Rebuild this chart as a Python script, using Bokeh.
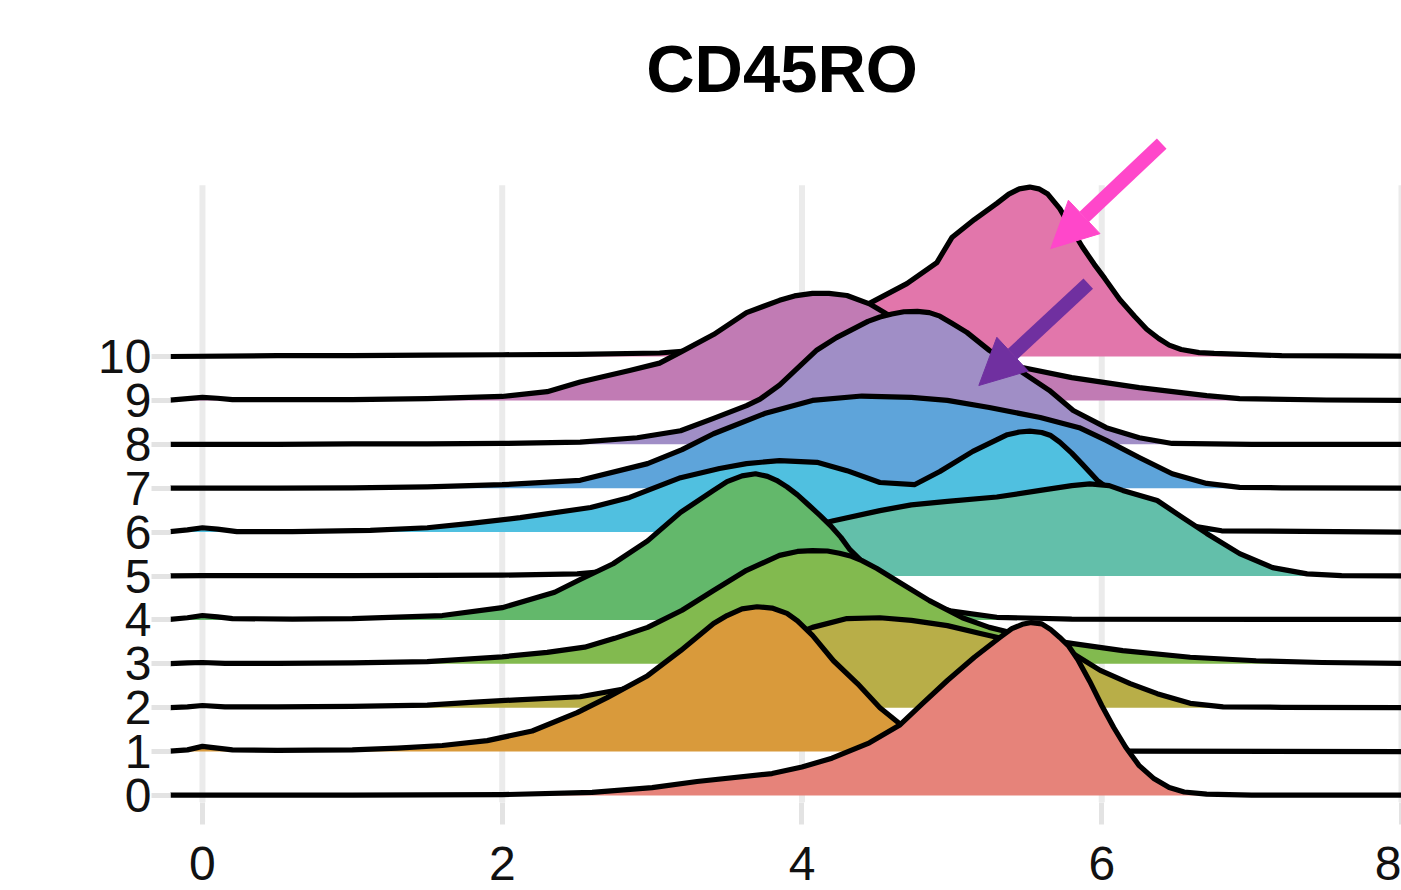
from bokeh.plotting import figure
from bokeh.models import FixedTicker, Range1d, Arrow, NormalHead
from bokeh.core.properties import value
from bokeh.embed import file_html
from bokeh.resources import INLINE

# ---------------- data ----------------
clusters = ["0", "1", "2", "3", "4", "5", "6", "7", "8", "9", "10"]

x_c0 = [-0.25, 1.0, 2.0, 2.6, 3.0, 3.3, 3.8, 4.0, 4.2, 4.45, 4.65, 4.8, 4.97, 5.15, 5.32, 5.4, 5.47, 5.53, 5.6, 5.66, 5.72, 5.78, 5.84, 5.92, 6.0, 6.08, 6.16, 6.25, 6.35, 6.45, 6.55, 6.7, 7.0, 8.05]
h_c0 = [0.01, 0.01, 0.02, 0.07, 0.18, 0.32, 0.5, 0.65, 0.85, 1.2, 1.6, 2.08, 2.62, 3.15, 3.6, 3.8, 3.9, 3.94, 3.91, 3.78, 3.6, 3.4, 3.1, 2.6, 2.05, 1.55, 1.1, 0.68, 0.38, 0.18, 0.08, 0.03, 0.01, 0.01]

x_c1 = [-0.25, -0.1, 0.0, 0.1, 0.2, 0.5, 1.0, 1.3, 1.6, 1.9, 2.2, 2.5, 2.7, 2.97, 3.19, 3.41, 3.5, 3.6, 3.7, 3.8, 3.9, 3.97, 4.07, 4.21, 4.37, 4.52, 4.65, 4.9, 5.2, 5.6, 6.2, 8.05]
h_c1 = [0.0, 0.04, 0.12, 0.08, 0.04, 0.03, 0.04, 0.08, 0.14, 0.25, 0.47, 0.89, 1.23, 1.73, 2.3, 2.92, 3.1, 3.25, 3.3, 3.27, 3.15, 2.98, 2.65, 2.07, 1.55, 1.0, 0.64, 0.3, 0.1, 0.03, 0.01, 0.0]

x_c2 = [-0.25, -0.1, 0.0, 0.15, 0.5, 1.0, 1.5, 1.79, 2.1, 2.52, 2.8, 3.1, 3.4, 3.7, 3.9, 4.07, 4.3, 4.52, 4.73, 4.97, 5.19, 5.5, 5.81, 5.99, 6.19, 6.37, 6.59, 6.81, 7.2, 8.05]
h_c2 = [0.0, 0.02, 0.05, 0.02, 0.02, 0.03, 0.06, 0.12, 0.18, 0.25, 0.42, 0.65, 0.95, 1.3, 1.6, 1.83, 2.03, 2.05, 1.99, 1.87, 1.69, 1.45, 1.23, 0.85, 0.55, 0.32, 0.1, 0.02, 0.01, 0.0]

x_c3 = [-0.25, -0.1, 0.0, 0.15, 0.5, 1.0, 1.5, 2.0, 2.3, 2.55, 2.75, 2.97, 3.2, 3.41, 3.63, 3.85, 3.97, 4.07, 4.17, 4.25, 4.33, 4.4, 4.5, 4.63, 4.85, 5.07, 5.25, 5.5, 5.81, 6.14, 6.59, 7.03, 7.47, 8.05]
h_c3 = [0.0, 0.02, 0.03, 0.01, 0.01, 0.02, 0.05, 0.16, 0.26, 0.38, 0.58, 0.83, 1.22, 1.67, 2.13, 2.47, 2.56, 2.58, 2.57, 2.52, 2.45, 2.35, 2.17, 1.9, 1.44, 1.05, 0.83, 0.62, 0.46, 0.3, 0.15, 0.07, 0.03, 0.01]

x_c4 = [-0.25, -0.1, 0.0, 0.1, 0.2, 0.6, 1.0, 1.6, 2.0, 2.35, 2.52, 2.74, 2.97, 3.19, 3.41, 3.5, 3.6, 3.69, 3.77, 3.83, 3.9, 3.97, 4.05, 4.12, 4.19, 4.26, 4.32, 4.5, 4.7, 5.0, 5.3, 5.8, 8.05]
h_c4 = [0.0, 0.05, 0.1, 0.07, 0.03, 0.02, 0.03, 0.1, 0.28, 0.63, 0.92, 1.28, 1.8, 2.45, 2.95, 3.15, 3.28, 3.33, 3.27, 3.18, 3.03, 2.85, 2.6, 2.38, 2.15, 1.88, 1.6, 1.0, 0.5, 0.2, 0.06, 0.02, 0.01]

x_c5 = [-0.25, 0.0, 1.0, 2.0, 2.5, 3.0, 3.5, 3.9, 4.21, 4.52, 4.73, 4.97, 5.3, 5.59, 5.8, 5.92, 6.05, 6.14, 6.37, 6.54, 6.7, 6.92, 7.14, 7.37, 7.6, 8.05]
h_c5 = [0.0, 0.01, 0.01, 0.02, 0.05, 0.2, 0.6, 1.0, 1.26, 1.49, 1.62, 1.7, 1.8, 1.95, 2.06, 2.1, 2.06, 1.95, 1.72, 1.33, 0.97, 0.51, 0.19, 0.05, 0.01, 0.0]

x_c6 = [-0.25, -0.1, 0.0, 0.1, 0.23, 0.6, 1.12, 1.5, 1.79, 2.12, 2.59, 2.85, 3.19, 3.45, 3.63, 3.85, 4.1, 4.3, 4.52, 4.75, 4.92, 5.14, 5.37, 5.45, 5.52, 5.6, 5.66, 5.72, 5.8, 5.87, 5.97, 6.2, 6.5, 6.8, 8.05]
h_c6 = [0.0, 0.05, 0.1, 0.07, 0.01, 0.01, 0.04, 0.1, 0.2, 0.33, 0.56, 0.79, 1.24, 1.45, 1.56, 1.63, 1.59, 1.4, 1.13, 1.08, 1.38, 1.84, 2.22, 2.28, 2.3, 2.27, 2.2, 2.05, 1.8, 1.55, 1.18, 0.6, 0.2, 0.03, 0.0]

x_c7 = [-0.25, 0.5, 1.0, 1.5, 2.0, 2.52, 2.97, 3.2, 3.41, 3.75, 4.07, 4.4, 4.73, 4.97, 5.25, 5.59, 5.85, 6.03, 6.25, 6.47, 6.7, 6.92, 7.2, 8.05]
h_c7 = [0.0, 0.0, 0.01, 0.03, 0.08, 0.18, 0.56, 0.88, 1.24, 1.7, 2.0, 2.1, 2.07, 2.0, 1.84, 1.61, 1.38, 1.09, 0.7, 0.33, 0.11, 0.02, 0.01, 0.0]

x_c8 = [-0.25, 0.5, 1.0, 1.5, 2.0, 2.52, 2.9, 3.19, 3.41, 3.63, 3.72, 3.85, 3.99, 4.1, 4.23, 4.44, 4.52, 4.6, 4.68, 4.77, 4.85, 4.92, 5.0, 5.1, 5.25, 5.47, 5.65, 5.81, 6.03, 6.25, 6.47, 7.0, 8.05]
h_c8 = [0.0, 0.0, 0.01, 0.01, 0.02, 0.05, 0.15, 0.31, 0.59, 0.88, 1.03, 1.35, 1.8, 2.15, 2.43, 2.8, 2.9, 2.97, 3.02, 3.03, 3.0, 2.92, 2.76, 2.55, 2.14, 1.64, 1.23, 0.77, 0.38, 0.15, 0.02, 0.0, 0.0]

x_c9 = [-0.25, -0.1, 0.0, 0.1, 0.2, 0.6, 1.0, 1.5, 2.0, 2.3, 2.52, 2.85, 3.05, 3.19, 3.41, 3.63, 3.85, 3.95, 4.07, 4.18, 4.3, 4.45, 4.56, 4.8, 5.05, 5.25, 5.47, 5.8, 6.25, 6.7, 6.92, 7.5, 8.05]
h_c9 = [0.0, 0.04, 0.07, 0.05, 0.02, 0.02, 0.02, 0.04, 0.09, 0.2, 0.42, 0.68, 0.85, 1.1, 1.5, 2.0, 2.28, 2.38, 2.44, 2.44, 2.39, 2.2, 1.98, 1.6, 1.2, 0.95, 0.75, 0.52, 0.29, 0.11, 0.04, 0.01, 0.0]

x_c10 = [-0.25, 0.5, 1.0, 1.5, 2.0, 2.5, 3.05, 3.5, 3.9, 4.2, 4.45, 4.7, 4.9, 5.0, 5.15, 5.3, 5.38, 5.45, 5.52, 5.58, 5.64, 5.72, 5.8, 5.87, 5.95, 6.02, 6.12, 6.22, 6.3, 6.38, 6.45, 6.53, 6.65, 6.75, 7.2, 8.05]
h_c10 = [0.0, 0.02, 0.02, 0.03, 0.04, 0.05, 0.08, 0.2, 0.5, 0.85, 1.21, 1.66, 2.14, 2.71, 3.12, 3.49, 3.7, 3.82, 3.86, 3.82, 3.7, 3.37, 2.9, 2.5, 2.1, 1.78, 1.3, 0.91, 0.62, 0.41, 0.26, 0.16, 0.09, 0.07, 0.02, 0.01]

fill_colors = ["#E6837A", "#D99A3B", "#B8AE48", "#82BA4F", "#63B86B", "#63BFAA",
               "#50C0E0", "#5EA4DA", "#A08EC6", "#C17BB4", "#E276AB"]

x_ticks = [0, 2, 4, 6, 8]
x_tick_labels = ["0", "2", "4", "6", "8"]
title_text = "CD45RO"

# annotation arrows: (x_start, y_start, x_end, y_end) in data units
arrow_pink = (6.40, 14.85, 5.66, 12.46)
arrow_purple = (5.91, 11.66, 5.18, 9.34)

xs_all = [x_c0, x_c1, x_c2, x_c3, x_c4, x_c5, x_c6, x_c7, x_c8, x_c9, x_c10]
hs_all = [h_c0, h_c1, h_c2, h_c3, h_c4, h_c5, h_c6, h_c7, h_c8, h_c9, h_c10]

# ---------------- figure ----------------
Y0, Y1 = -0.159, 18.11
p = figure(width=1401, height=890, output_backend="svg", toolbar_location=None,
           x_range=Range1d(-0.2133, 8.0), y_range=Range1d(Y0, Y1),
           min_border_left=170, min_border_right=0, min_border_top=0, min_border_bottom=88)
p.outline_line_color = None
p.background_fill_color = "white"
p.border_fill_color = "white"
p.xgrid.visible = False
p.ygrid.visible = False

# vertical grid lines (limited to the panel height)
p.segment(x0=x_ticks, y0=[Y0] * len(x_ticks), x1=x_ticks, y1=[13.9] * len(x_ticks),
          line_color="#EBEBEB", line_width=6)

# ridges: top row first so lower rows overlay upper ones
for k in range(len(clusters) - 1, -1, -1):
    xs = xs_all[k]
    ys = [k + h for h in hs_all[k]]
    p.varea(x=xs, y1=[k] * len(xs), y2=ys, fill_color=fill_colors[k], fill_alpha=1.0)
    p.line(x=xs, y=ys, line_color="black", line_width=5.2, line_join="round", line_cap="round")

# arrows
for (xs0, ys0, xe, ye), col in [(arrow_pink, "#FF47CA"), (arrow_purple, "#7030A0")]:
    p.add_layout(Arrow(end=NormalHead(size=46, fill_color=col, line_color=col, line_width=1),
                       x_start=xs0, y_start=ys0, x_end=xe, y_end=ye,
                       line_color=col, line_width=14))

# title
p.text(x=[3.867], y=[16.56], text=[title_text], text_font=value("Liberation Sans"),
       text_font_style="bold", text_font_size="67px", text_align="center",
       text_baseline="alphabetic", text_color="black")

# axes
p.xaxis.ticker = FixedTicker(ticks=x_ticks)
p.xaxis.major_label_overrides = {t: l for t, l in zip(x_ticks, x_tick_labels)}
p.yaxis.ticker = FixedTicker(ticks=list(range(len(clusters))))
p.yaxis.major_label_overrides = {i: c for i, c in enumerate(clusters)}
for ax in (p.xaxis, p.yaxis):
    ax.axis_line_color = None
    ax.minor_tick_line_color = None
    ax.major_tick_in = 0
    ax.major_tick_line_color = "#E3E3E3"
    ax.major_tick_line_width = 5
    ax.major_label_text_font = "Liberation Sans"
    ax.major_label_text_font_size = "48px"
    ax.major_label_text_color = "#111111"
p.xaxis.major_tick_out = 22
p.xaxis.major_label_standoff = 22
p.yaxis.major_tick_out = 19
p.yaxis.major_label_standoff = 0

open("out.html", "w").write(file_html(p, INLINE))
